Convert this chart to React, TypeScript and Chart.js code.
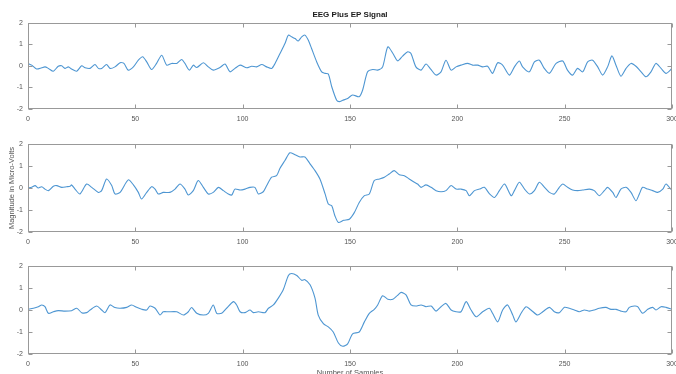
import React, { useEffect, useRef } from "react";
import { Chart, registerables } from "chart.js";
Chart.register(...registerables);

const X_TICKS = [0, 50, 100, 150, 200, 250, 300];
const Y_TICKS = [-2, -1, 0, 1, 2];
const TITLE = "EEG Plus EP Signal";
const Y_LABEL = "Magnitude in Micro-Volts";
const X_LABEL = "Number of Samples";

const S1_X = [
  0, 1.7, 4, 6.4, 7.9, 9.5, 11.8, 14.1, 15.7, 17.2,
  18.8, 20.3, 22.7, 25, 26.6, 28.9, 31.2, 32.8, 34.3, 36.6,
  38.2, 40.5, 42.9, 44.7, 46.7, 49.1, 51.4, 53.4, 55.3, 57.6,
  59.9, 62.3, 64.6, 66.9, 69.3, 71.6, 73.1, 75.2, 77, 78.6,
  81.7, 84, 86.3, 89.4, 91.8, 94.1, 96.4, 98.8, 101.9, 104.2,
  106.5, 108.9, 111.2, 113.5, 115.1, 117.4, 119.7, 121.3, 122.8, 124.4,
  125.9, 127.5, 129, 130.6, 132.1, 134.5, 136.8, 138.4, 139.9, 141.5,
  143.8,
  145, 146.6, 148.9, 151.2, 154.3, 155.9, 158.2, 160.6, 162.9, 165.2,
  167.6, 170, 172.2, 174.5, 176.9, 178.4, 180.7, 183.1, 185.4, 187.7,
  190.1, 192.4, 194.7, 197.1, 199.4, 201.7, 204.8, 207.1, 209.5, 211.8,
  214.1, 216.4, 218.8, 221.1, 224.2, 226.6, 228.9, 230.4, 233.5, 235.9,
  238.2, 240.5, 242.9, 246, 249.1, 251.3, 253.7, 256, 258.4, 260.7,
  263, 265.4, 267.7, 270, 272, 273.9, 276.2, 278.6, 280.9, 283.2,
  285.6, 287.9, 290.2, 292.5, 294.9, 297.2, 300,
];
const S1_Y = [
  0.11, 0.03, -0.15, -0.09, -0.05, -0.12, -0.25, -0.02, 0, -0.12,
  -0.05, -0.15, -0.25, 0, -0.09, -0.12, 0.06, -0.12, -0.12, 0.06,
  -0.12, -0.05, 0.14, 0.11, -0.2, -0.05, 0.26, 0.42, 0.18, -0.17,
  0.11, 0.49, 0.03, 0.11, 0.11, 0.29, 0.11, -0.2, 0.03, -0.08,
  0.14, -0.05, -0.2, -0.08, 0.08, -0.28, -0.12, 0.03, -0.09, -0.02,
  -0.05, 0.06, -0.05, -0.12, 0.11, 0.57, 1.03, 1.42, 1.34, 1.26,
  1.15, 1.34, 1.42, 1.18, 0.8, 0.18, -0.28, -0.35, -0.38, -0.97,
  -1.6,
  -1.66, -1.6, -1.51, -1.35, -1.43, -1.12, -0.28, -0.17, -0.2, -0.05,
  0.88, 0.57, 0.23, 0.45, 0.65, 0.57, -0.05, -0.2, 0.08, -0.17,
  -0.43, -0.28, 0.26, -0.2, -0.05, 0.03, 0.11, 0.03, 0.03, -0.05,
  -0.02, -0.35, 0.14, 0.03, -0.43, -0.05, 0.22, -0.05, -0.28, 0.18,
  0.26, -0.12, -0.35, 0.11, 0.22, -0.2, -0.43, -0.12, -0.28, 0.18,
  0.26, -0.05, -0.43, -0.05, 0.46, 0.03, -0.48, -0.12, 0.11, -0.02,
  -0.28, -0.51, -0.28, 0.11, -0.12, -0.35, -0.12,
];

const S2_X = [
  0, 1.7, 3.3, 4.8, 6.4, 7.9, 9.5, 11.8, 13.4, 15.7,
  18, 19.6, 20.3, 21.9, 24.2, 27.3, 29.7, 32.8, 34.3, 36.6,
  39, 40.5, 42.9, 46.7, 49.1, 51.4, 52.9, 55.3, 57.6, 59.2,
  60.7, 63, 66.1, 68.5, 70.8, 73.1, 74.7, 77, 79.3, 81.7,
  84, 86.3, 88.7, 91, 93.3, 94.9, 96.4, 98.8, 101.1, 103.4,
  105.7, 107.3, 109.6, 111.2, 113.5, 115.8, 117.4, 119.7, 122, 124.4,
  126.7, 129, 131.4, 133.7, 136, 138.4, 139.9, 141.5, 143, 144.6,
  147.1, 149.7, 152, 154.3, 156.7, 159, 161.3, 163.7, 166, 168.3,
  170.6, 173, 175.3, 177.6, 180, 181.5, 183.1, 185.4, 187.8, 190.1,
  192.4, 194.7, 197.1, 199.4, 201.7, 204.1, 205.6, 208, 210.3, 212.6,
  215, 217.3, 219.6, 222, 225.1, 226.6, 228.9, 231.3, 233.6, 235.9,
  238.2, 240.6, 242.9, 245.2, 247.5, 249.1, 251.4, 253.7, 256.1, 258.4,
  261.5, 263.8, 266.1, 268.5, 270, 272.4, 273.9, 276.2, 278.6, 280.9,
  283.2, 284.8, 286.3, 288.7, 291, 293.3, 295.7, 297.2, 300,
];
const S2_Y = [
  0, 0.03, 0.11, 0, 0.06, -0.05, -0.12, 0.08, 0.11, 0.03,
  0.06, 0.08, 0.14, -0.05, -0.27, 0.18, 0.03, -0.2, -0.12, 0.41,
  0.11, -0.27, -0.2, 0.37, 0.14, -0.2, -0.5, -0.2, 0.06, -0.05,
  -0.27, -0.2, -0.2, -0.05, 0.18, -0.05, -0.32, -0.12, 0.34, 0.03,
  -0.27, -0.2, 0.03, -0.12, -0.27, -0.32, -0.05, -0.09, -0.05, 0.03,
  0.03, -0.27, -0.17, 0.11, 0.49, 0.56, 0.9, 1.25, 1.6, 1.51,
  1.41, 1.41, 1.1, 0.79, 0.41, -0.27, -0.73, -0.81, -1.27, -1.57,
  -1.47, -1.42, -1.12, -0.66, -0.35, -0.27, 0.34, 0.41, 0.49, 0.64,
  0.79, 0.6, 0.56, 0.41, 0.26, 0.18, 0.03, 0.14, 0.03, -0.12,
  -0.17, -0.12, 0.11, -0.05, -0.05, -0.12, -0.35, -0.12, -0.05, 0.03,
  -0.27, -0.43, -0.12, 0.18, -0.35, -0.12, 0.26, -0.05, -0.27, -0.12,
  0.26, 0.03, -0.2, -0.27, 0.03, 0.18, 0.03, -0.09, -0.12, -0.09,
  -0.05, -0.12, -0.35, -0.12, 0.03, -0.2, -0.43, -0.05, 0.03, -0.2,
  -0.58, -0.27, 0.03, -0.05, -0.12, -0.2, -0.05, 0.18, -0.12,
];

const S3_X = [
  0, 2.5, 4.8, 6.4, 7.9, 9.5, 11.8, 14.1, 17.2, 20.3,
  22.7, 25, 27.3, 28.9, 32, 34.3, 35.9, 38.2, 40.5, 42.9,
  46, 48.3, 50.6, 53, 55.3, 56.8, 59.2, 61.5, 63, 65.4,
  69.3, 72.4, 74.7, 76.2, 78.6, 81.7, 84, 86.3, 87.9, 90.2,
  92.5, 95.7, 97.2, 98.8, 101.1, 103.4, 105, 107.3, 110.4, 112,
  114.3, 116.6, 118.9, 121.3, 122.8, 125.2, 127.5, 129, 131.4, 133.7,
  135.2, 137.6, 139.9, 142.2, 144.6,
  146.6, 148.9, 151.2, 154.3, 156.7, 159, 161.3, 162.9, 165.2, 167.6,
  170, 172, 173.8, 176.1, 178.4, 180.7, 183.1, 185.4, 187.8, 190.1,
  192.4, 194.7, 197.1, 199.4, 201.7, 204.1, 206.4, 208.8, 211.8, 214.9,
  216.4, 218.8, 221.1, 223.4, 225.8, 227.3, 229.7, 232, 234.3, 237.4,
  239.8, 242.9, 245.2, 247.5, 249.9, 252.2, 254.5, 256.8, 259.2, 261.5,
  263.8, 266.1, 269.2, 271.6, 273.9, 276.2, 278.6, 280.1, 282.5, 284,
  286.3, 288.7, 291, 292.5, 294.9, 297.2, 300,
];
const S3_Y = [
  0.03, 0.08, 0.15, 0.23, 0.15, -0.15, -0.08, -0.03, -0.05, -0.03,
  0.08, -0.12, -0.12, 0, 0.18, 0, -0.12, 0.23, 0.11, 0.08,
  0.12, 0.23, 0.12, 0.03, 0, 0.18, 0.08, -0.23, -0.08, -0.08,
  -0.08, -0.23, -0.08, 0.11, -0.15, -0.23, -0.15, 0.23, -0.15, -0.15,
  0.08, 0.38, 0.23, -0.08, -0.12, 0, -0.12, -0.08, -0.12, 0.08,
  0.23, 0.54, 0.92, 1.57, 1.66, 1.57, 1.35, 1.38, 1.15, 0.54,
  -0.23, -0.62, -0.77, -1.0, -1.5,
  -1.65, -1.54, -1.08, -1.0, -0.54, -0.15, 0.03, 0.23, 0.65, 0.49,
  0.49, 0.65, 0.8, 0.69, 0.23, 0.18, 0.23, 0.15, 0.18, -0.05,
  0.15, 0.3, 0, -0.08, -0.08, 0.38, 0, -0.31, -0.08, 0.08,
  -0.15, -0.54, 0, 0.23, -0.23, -0.54, -0.15, 0.15, 0, -0.23,
  -0.08, 0.12, -0.08, -0.12, 0.12, 0.08, 0, -0.08, 0, -0.05,
  0, 0.08, 0.12, 0.03, 0.03, -0.05, -0.08, 0.12, 0.18, 0.15,
  -0.15, 0.03, 0.12, 0, 0.15, 0.12, 0.03,
];

const FONT = "'Liberation Sans', Arial, Helvetica, sans-serif";
const LINE_COLOR = "rgb(78,150,210)";
const BOX_COLOR = "#999999";
const TEXT_COLOR = "#555555";

const boxTicks = {
  id: "boxTicks",
  afterDatasetsDraw(chart: any) {
    const { ctx, chartArea: a, scales } = chart;
    const x = scales.x;
    const y = scales.y;
    const L = Math.round(a.left) + 0.5;
    const R = Math.round(a.right) - 0.5;
    const T = Math.round(a.top) + 0.5;
    const B = Math.round(a.bottom) - 0.5;
    ctx.save();
    ctx.strokeStyle = BOX_COLOR;
    ctx.lineWidth = 1;
    ctx.strokeRect(L, T, R - L, B - T);
    ctx.beginPath();
    X_TICKS.forEach((v) => {
      const px = Math.round(x.getPixelForValue(v)) + 0.5;
      ctx.moveTo(px, B);
      ctx.lineTo(px, B - 4);
      ctx.moveTo(px, T);
      ctx.lineTo(px, T + 4);
    });
    Y_TICKS.forEach((v) => {
      const py = Math.round(y.getPixelForValue(v)) + 0.5;
      ctx.moveTo(L, py);
      ctx.lineTo(L + 4, py);
      ctx.moveTo(R, py);
      ctx.lineTo(R - 4, py);
    });
    ctx.stroke();
    ctx.restore();
  },
};

type PanelProps = {
  xs: number[];
  ys: number[];
  top: number;
  height: number;
  padTop: number;
  xAxisHeight: number;
  title?: string;
  yTitle?: string;
  xTitle?: string;
};

function Panel({ xs, ys, top, height, padTop, xAxisHeight, title, yTitle, xTitle }: PanelProps) {
  const ref = useRef<HTMLCanvasElement | null>(null);
  useEffect(() => {
    if (!ref.current) return;
    const tickFont = { family: FONT, size: 7 };
    const chart = new Chart(ref.current, {
      type: "line",
      data: {
        datasets: [
          {
            data: xs.map((x, i) => ({ x, y: ys[i] })),
            borderColor: LINE_COLOR,
            borderWidth: 1.1,
            pointRadius: 0,
            tension: 0.25,
            fill: false,
          },
        ],
      },
      options: {
        responsive: false,
        maintainAspectRatio: false,
        animation: false,
        events: [],
        layout: { padding: { top: padTop, right: 4, left: 0, bottom: 0 } },
        plugins: {
          legend: { display: false },
          tooltip: { enabled: false },
          title: title
            ? {
                display: true,
                text: title,
                fullSize: false,
                color: "#1a1a1a",
                font: { family: FONT, size: 8, weight: "bold" },
                padding: { top: 10, bottom: 3 },
              }
            : { display: false },
        },
        scales: {
          x: {
            type: "linear",
            min: 0,
            max: 300,
            ticks: {
              stepSize: 50,
              font: tickFont,
              color: TEXT_COLOR,
              padding: 6,
              maxRotation: 0,
              autoSkip: false,
            },
            grid: { display: false, drawTicks: false },
            border: { display: false },
            title: xTitle
              ? {
                  display: true,
                  text: xTitle,
                  color: TEXT_COLOR,
                  font: { family: FONT, size: 7.5 },
                  padding: { top: 0, bottom: 2.5 },
                }
              : { display: false },
            afterFit: (s: any) => {
              s.height = xAxisHeight;
              s.paddingLeft = 0;
              s.paddingRight = 0;
            },
          },
          y: {
            type: "linear",
            min: -2,
            max: 2,
            ticks: {
              stepSize: 1,
              font: tickFont,
              color: TEXT_COLOR,
              padding: 5,
            },
            grid: { display: false, drawTicks: false },
            border: { display: false },
            title: yTitle
              ? {
                  display: true,
                  text: yTitle,
                  color: TEXT_COLOR,
                  font: { family: FONT, size: 7.5 },
                  padding: { top: 7.5, bottom: 0 },
                }
              : { display: false },
            afterFit: (s: any) => {
              s.width = 28;
              s.paddingTop = 0;
              s.paddingBottom = 0;
            },
          },
        },
      } as any,
      plugins: [boxTicks],
    });
    return () => chart.destroy();
  }, []);
  return (
    <canvas
      ref={ref}
      width={676}
      height={height}
      style={{ position: "absolute", left: 0, top, width: 676, height, display: "block" }}
    />
  );
}

export default function App() {
  return (
    <div
      style={{
        position: "absolute",
        left: 0,
        top: 0,
        width: 676,
        height: 374,
        overflow: "hidden",
        background: "#ffffff",
      }}
    >
      <Panel xs={S1_X} ys={S1_Y} top={0} height={125} padTop={0} xAxisHeight={16} title={TITLE} />
      <Panel xs={S2_X} ys={S2_Y} top={125} height={125} padTop={19} xAxisHeight={18} yTitle={Y_LABEL} />
      <Panel xs={S3_X} ys={S3_Y} top={250} height={130} padTop={16} xAxisHeight={26} xTitle={X_LABEL} />
    </div>
  );
}
